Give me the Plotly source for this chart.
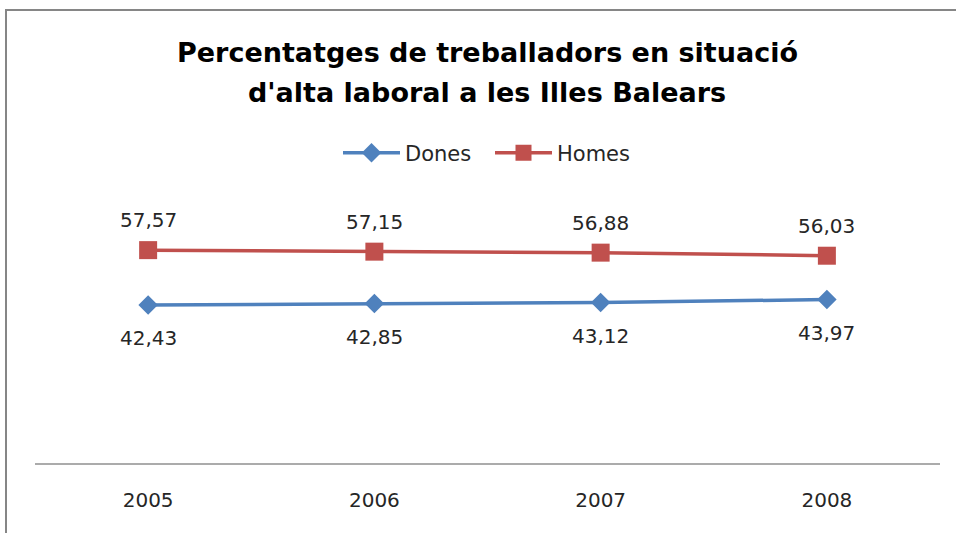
import plotly.graph_objects as go

years = ["2005", "2006", "2007", "2008"]
dones = [42.43, 42.85, 43.12, 43.97]
homes = [57.57, 57.15, 56.88, 56.03]
title_lines = ["Percentatges de treballadors en situació", "d'alta laboral a les Illes Balears"]

W, H = 956, 533
L, R, T, B = 35, 940, 205, 463


def px_x(px):
    return (px - L) / (R - L)


def px_y(py):
    return (B - py) / (B - T)


def fmt(v):
    return f"{v:.2f}".replace(".", ",")


BLUE = "#4F81BD"
RED = "#C0504D"
FONT = "DejaVu Sans"
TXT = "#262626"

fig = go.Figure()
fig.add_trace(go.Scatter(
    x=years, y=dones, name="Dones", mode="lines+markers",
    line=dict(color=BLUE, width=3.5),
    marker=dict(symbol="diamond", size=15, color=BLUE),
))
fig.add_trace(go.Scatter(
    x=years, y=homes, name="Homes", mode="lines+markers",
    line=dict(color=RED, width=3.5),
    marker=dict(symbol="square", size=18, color=RED),
))

annotations = []
for i, yv in enumerate(homes):
    annotations.append(dict(x=i, y=yv, xref="x", yref="y", text=fmt(yv), showarrow=False,
                            yshift=30, yanchor="middle",
                            font=dict(family=FONT, size=20, color=TXT)))
for i, yv in enumerate(dones):
    annotations.append(dict(x=i, y=yv, xref="x", yref="y", text=fmt(yv), showarrow=False,
                            yshift=-33, yanchor="middle",
                            font=dict(family=FONT, size=20, color=TXT)))
for line, py in zip(title_lines, [52, 93]):
    annotations.append(dict(x=px_x(487), y=px_y(py), xref="paper", yref="paper", text="<b>" + line + "</b>",
                            showarrow=False, xanchor="center", yanchor="middle",
                            font=dict(family=FONT, size=27, color="#000000")))

fig.update_layout(
    width=W, height=H,
    margin=dict(l=L, r=W - R, t=T, b=H - B, autoexpand=False),
    paper_bgcolor="white", plot_bgcolor="white",
    showlegend=True,
    legend=dict(orientation="h", x=px_x(490), xanchor="center", y=px_y(153), yanchor="middle",
                itemwidth=57, entrywidth=80,
                font=dict(family=FONT, size=21, color=TXT), bgcolor="rgba(0,0,0,0)"),
    annotations=annotations,
    shapes=[dict(type="rect", xref="paper", yref="paper",
                 x0=px_x(6), x1=px_x(1100), y0=px_y(700), y1=px_y(10),
                 line=dict(color="#868686", width=2), fillcolor="rgba(0,0,0,0)", layer="below")],
)
fig.update_xaxes(type="category", range=[-0.5, 3.5], showline=True, linecolor="#ABABAB", linewidth=2,
                 showgrid=False, zeroline=False, ticks="",
                 tickfont=dict(family=FONT, size=20, color=TXT), ticklabelstandoff=18)
fig.update_yaxes(range=[-1.06, 70], visible=False, showgrid=False, zeroline=False)

fig.write_html("out.html", config={"displayModeBar": False},
               post_script="document.body.style.margin='0px';")
